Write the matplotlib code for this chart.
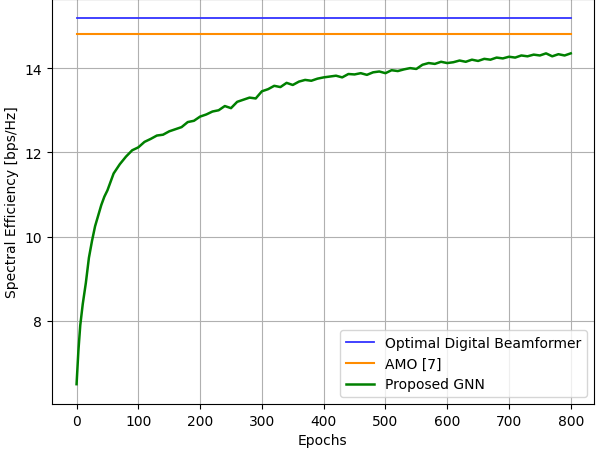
import matplotlib
matplotlib.use("Agg")
import matplotlib.pyplot as plt

# values
epochs = [0, 3, 6, 10, 15, 20, 25, 30, 35, 40, 45, 50, 55, 60, 70, 80, 90, 100,
          110, 120, 130, 140, 150, 160, 170, 180, 190, 200, 210, 220, 230, 240,
          250, 260, 270, 280, 290, 300, 310, 320, 330, 340, 350, 360, 370, 380,
          390, 400, 410, 420, 430, 440, 450, 460, 470, 480, 490, 500, 510, 520,
          530, 540, 550, 560, 570, 580, 590, 600, 610, 620, 630, 640, 650, 660,
          670, 680, 690, 700, 710, 720, 730, 740, 750, 760, 770, 780, 790, 800]
gnn = [6.5, 7.3, 7.9, 8.4, 8.9, 9.5, 9.9, 10.25, 10.5, 10.75, 10.95, 11.1, 11.3,
       11.5, 11.72, 11.9, 12.05, 12.12, 12.25, 12.32, 12.4, 12.42, 12.5, 12.55,
       12.6, 12.72, 12.75, 12.85, 12.9, 12.97, 13.0, 13.1, 13.05, 13.2, 13.25,
       13.3, 13.28, 13.45, 13.5, 13.58, 13.55, 13.65, 13.6, 13.68, 13.72, 13.7,
       13.75, 13.78, 13.8, 13.82, 13.78, 13.86, 13.85, 13.88, 13.84, 13.9, 13.92,
       13.88, 13.95, 13.93, 13.97, 14.0, 13.98, 14.08, 14.12, 14.1, 14.15, 14.12,
       14.14, 14.18, 14.15, 14.2, 14.17, 14.22, 14.2, 14.25, 14.23, 14.27, 14.25,
       14.3, 14.28, 14.32, 14.3, 14.35, 14.28, 14.33, 14.3, 14.35]
optimal = 15.2
amo = 14.8

fig = plt.figure(figsize=(5.96, 4.52), dpi=100)
ax = fig.add_axes([0.087, 0.104, 0.909, 0.896])

ax.plot([0, 800], [optimal, optimal], color="#3333ff", lw=1.3, label="Optimal Digital Beamformer")
ax.plot([0, 800], [amo, amo], color="#ff8c00", lw=1.5, label="AMO [7]")
ax.plot(epochs, gnn, color="green", lw=1.8, label="Proposed GNN")

ax.set_xlim(-40, 837)
ax.set_ylim(6.03, 15.64)
ax.set_xticks(range(0, 801, 100))
ax.set_yticks([8, 10, 12, 14])
ax.grid(True)
ax.set_xlabel("Epochs")
ax.set_ylabel("Spectral Efficiency [bps/Hz]")
ax.legend(loc="lower right")

fig.savefig("out.png")
